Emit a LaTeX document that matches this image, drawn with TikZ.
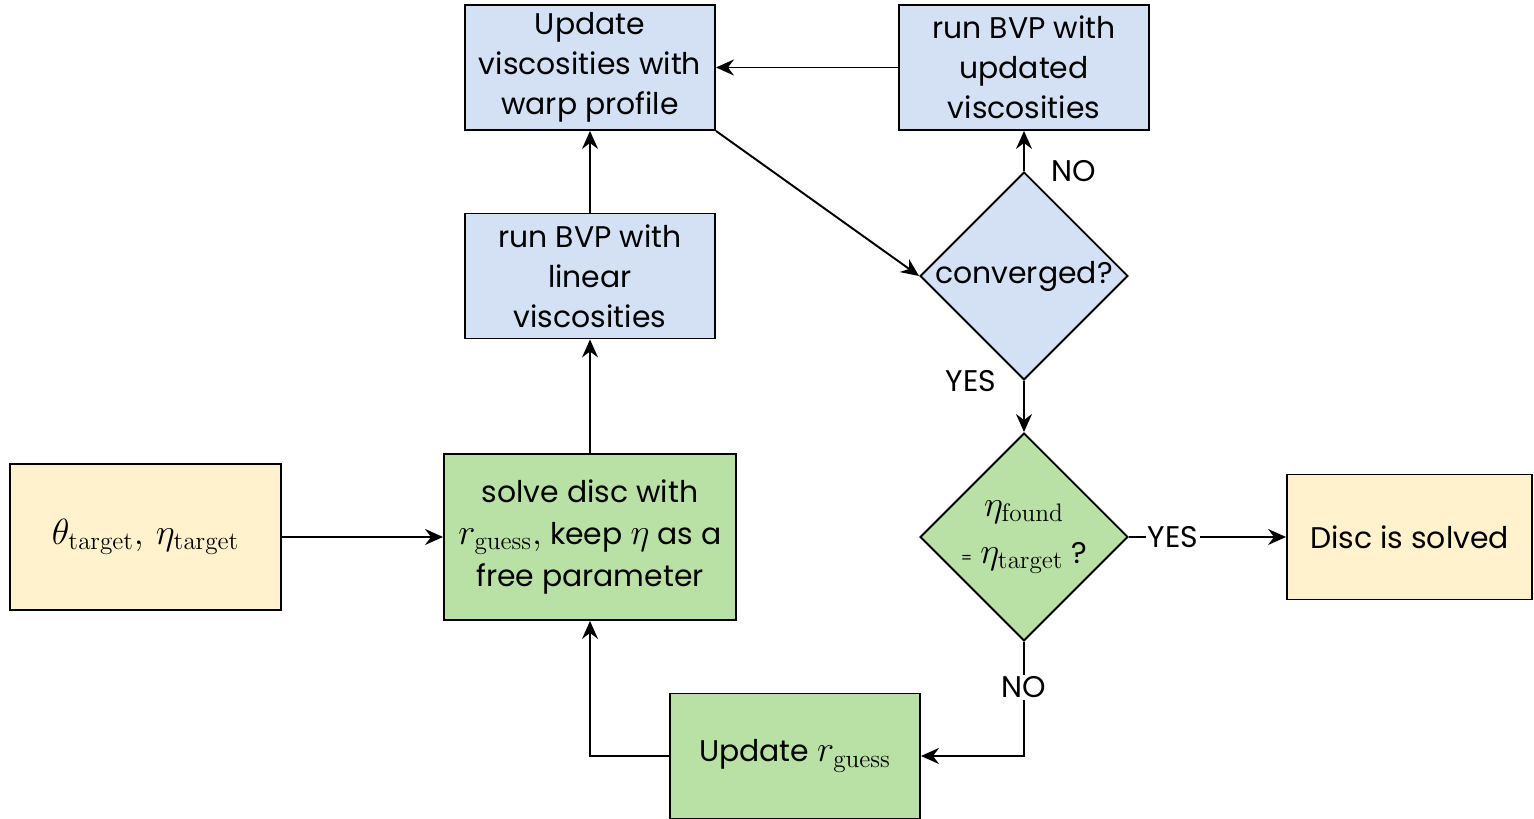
\documentclass[tikz,border=0pt]{standalone}
\usepackage[no-math]{fontspec}
\setmainfont{Poppins}
\usepackage{amsmath}
\usepackage{tikz}
\usetikzlibrary{shapes.geometric, arrows.meta, positioning, calc}

\definecolor{boxyellow}{HTML}{FFF2CC}
\definecolor{boxgreen}{HTML}{B9E0A5}
\definecolor{boxblue}{HTML}{D4E1F5}

\newcommand{\bigmath}[1]{{\fontsize{22}{24}\selectfont$#1$}}

\begin{document}
\begin{tikzpicture}[
    process/.style={draw, line width=1.1pt, minimum width=5cm, minimum height=2.5cm, align=center, inner sep=2pt,
        font=\fontsize{17}{22.8}\selectfont},
    decision/.style={draw, line width=1.1pt, diamond, aspect=1, minimum size=4.16cm, inner sep=0pt, align=center,
        font=\fontsize{17}{22.8}\selectfont},
    arrow/.style={-{Stealth[length=3.6mm, width=3.2mm, inset=1.2mm]}, line width=1.1pt},
    lbl/.style={fill=white, inner sep=1pt, font=\fontsize{17}{20}\selectfont}
]
\useasboundingbox (0,0) rectangle (30.68,16.38);

% Input and solver
\node[process, fill=boxyellow, minimum width=5.42cm, minimum height=2.92cm] (target) at (2.91,5.64)
    {\bigmath{\theta_{\mathrm{target}},\,\eta_{\mathrm{target}}}};
\node[process, fill=boxgreen, minimum width=5.84cm, minimum height=3.32cm] (solve) at (11.8,5.64)
    {solve disc with\\[1pt]\bigmath{r_{\mathrm{guess}},} keep \bigmath{\eta} as a\\[1pt]free parameter};

% BVP loop
\node[process, fill=boxblue] (linear) at (11.8,10.86) {run BVP with\\linear\\viscosities};
\node[process, fill=boxblue] (warp) at (11.8,15.03) {Update\\viscosities with\\warp profile};
\node[process, fill=boxblue] (rerun) at (20.48,15.03) {run BVP with\\updated\\viscosities};
\node[decision, fill=boxblue] (conv) at (20.48,10.86) {converged?};

% Eta check
\node[decision, fill=boxgreen] (etacheck) at (20.48,5.64)
    {\bigmath{\eta_{\mathrm{found}}}\\[4pt]{\small =} \bigmath{\eta_{\mathrm{target}}} ?};
\node[process, fill=boxyellow, minimum width=4.9cm] (solved) at (28.19,5.64) {Disc is solved};
\node[process, fill=boxgreen] (newr) at (15.9,1.26) {Update \bigmath{r_{\mathrm{guess}}}};

\draw[arrow] (target) -- (solve);
\draw[arrow] (solve) -- (linear);
\draw[arrow] (linear) -- (warp);
\draw[arrow] (rerun) -- (warp);
\draw[arrow] (warp.south east) -- (conv.west);
\draw[arrow] (conv.north) -- node[lbl, pos=0, right=0.5cm] {NO} (rerun.south);
\draw[arrow] (conv.south) -- node[lbl, pos=0, left=0.5cm] {YES} (etacheck.north);
\draw[arrow] (etacheck.east) -- node[lbl, pos=0.28] {YES} (solved.west);
\draw[arrow] (etacheck.south) |- node[lbl, pos=0.2] {NO} (newr.east);
\draw[arrow] (newr.west) -| (solve.south);

\end{tikzpicture}
\end{document}
